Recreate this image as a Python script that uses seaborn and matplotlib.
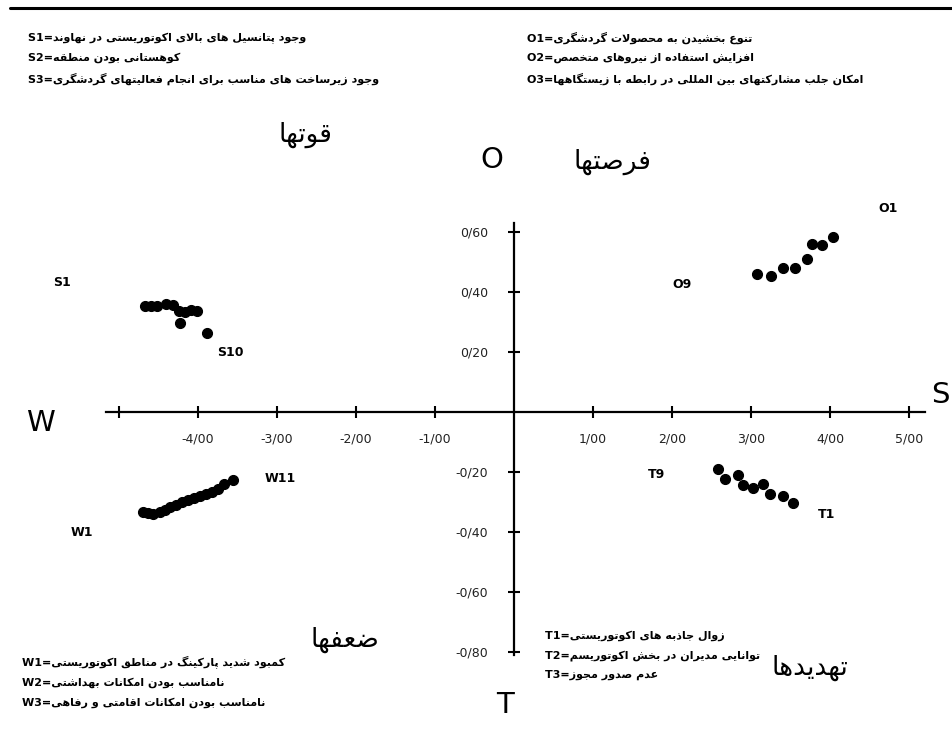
import pandas as pd
import matplotlib.pyplot as plt
import seaborn as sns

# --- point scores (x = internal S/W, y = external O/T) ---
s_x = [-4.67, -4.59, -4.52, -4.41, -4.32, -4.24, -4.16, -4.09, -4.01, -4.23, -3.89]
s_y = [0.353, 0.353, 0.353, 0.360, 0.357, 0.337, 0.333, 0.340, 0.337, 0.297, 0.263]

o_x = [3.08, 3.25, 3.41, 3.56, 3.71, 3.77, 3.90, 4.04]
o_y = [0.460, 0.453, 0.480, 0.480, 0.510, 0.560, 0.557, 0.583]

w_x = [-4.70, -4.63, -4.57, -4.48, -4.42, -4.35, -4.28, -4.20,
       -4.13, -4.05, -3.97, -3.90, -3.82, -3.75, -3.67, -3.56]
w_y = [-0.333, -0.337, -0.340, -0.333, -0.327, -0.317, -0.310, -0.300,
       -0.293, -0.287, -0.280, -0.273, -0.267, -0.257, -0.240, -0.227]

t_x = [2.58, 2.67, 2.84, 2.90, 3.03, 3.15, 3.24, 3.41, 3.53]
t_y = [-0.190, -0.223, -0.210, -0.243, -0.253, -0.240, -0.273, -0.280, -0.303]

x_ticks = [-5, -4, -3, -2, -1, 1, 2, 3, 4, 5]
x_tick_labels = ["", "-4/00", "-3/00", "-2/00", "-1/00", "1/00", "2/00", "3/00", "4/00", "5/00"]
y_ticks = [0.6, 0.4, 0.2, -0.2, -0.4, -0.6, -0.8]
y_tick_labels = ["0/60", "0/40", "0/20", "-0/20", "-0/40", "-0/60", "-0/80"]

s_lines = ["وجود پتانسیل های بالای اکوتوریستی در نهاوند",
           "کوهستانی بودن منطقه",
           "وجود زیرساخت های مناسب برای انجام فعالیتهای گردشگری"]
o_lines = ["تنوع بخشیدن به محصولات گردشگری",
           "افزایش استفاده از نیروهای متخصص",
           "امکان جلب مشارکتهای بین المللی در رابطه با زیستگاهها"]
w_lines = ["کمبود شدید پارکینگ در مناطق اکوتوریستی",
           "نامناسب بودن امکانات بهداشتی",
           "نامناسب بودن امکانات اقامتی و رفاهی"]
t_lines = ["زوال جاذبه های اکوتوریستی",
           "توانایی مدیران در بخش اکوتوریسم",
           "عدم صدور مجوز"]

quad_titles = {"S": "قوتها", "O": "فرصتها", "W": "ضعفها", "T": "تهدیدها"}

# --- tiny arabic/persian shaper (matplotlib has no shaping / bidi) ---
# isolated, final, initial, medial
FORMS = {
    "ا": ("\uFE8D", "\uFE8E", None, None), "آ": ("\uFE81", "\uFE82", None, None),
    "ب": ("\uFE8F", "\uFE90", "\uFE91", "\uFE92"), "پ": ("\uFB56", "\uFB57", "\uFB58", "\uFB59"),
    "ت": ("\uFE95", "\uFE96", "\uFE97", "\uFE98"), "ث": ("\uFE99", "\uFE9A", "\uFE9B", "\uFE9C"),
    "ج": ("\uFE9D", "\uFE9E", "\uFE9F", "\uFEA0"), "چ": ("\uFB7A", "\uFB7B", "\uFB7C", "\uFB7D"),
    "ح": ("\uFEA1", "\uFEA2", "\uFEA3", "\uFEA4"), "خ": ("\uFEA5", "\uFEA6", "\uFEA7", "\uFEA8"),
    "د": ("\uFEA9", "\uFEAA", None, None), "ذ": ("\uFEAB", "\uFEAC", None, None),
    "ر": ("\uFEAD", "\uFEAE", None, None), "ز": ("\uFEAF", "\uFEB0", None, None),
    "ژ": ("\uFB8A", "\uFB8B", None, None),
    "س": ("\uFEB1", "\uFEB2", "\uFEB3", "\uFEB4"), "ش": ("\uFEB5", "\uFEB6", "\uFEB7", "\uFEB8"),
    "ص": ("\uFEB9", "\uFEBA", "\uFEBB", "\uFEBC"), "ض": ("\uFEBD", "\uFEBE", "\uFEBF", "\uFEC0"),
    "ط": ("\uFEC1", "\uFEC2", "\uFEC3", "\uFEC4"), "ظ": ("\uFEC5", "\uFEC6", "\uFEC7", "\uFEC8"),
    "ع": ("\uFEC9", "\uFECA", "\uFECB", "\uFECC"), "غ": ("\uFECD", "\uFECE", "\uFECF", "\uFED0"),
    "ف": ("\uFED1", "\uFED2", "\uFED3", "\uFED4"), "ق": ("\uFED5", "\uFED6", "\uFED7", "\uFED8"),
    "ک": ("\uFB8E", "\uFB8F", "\uFB90", "\uFB91"), "گ": ("\uFB92", "\uFB93", "\uFB94", "\uFB95"),
    "ل": ("\uFEDD", "\uFEDE", "\uFEDF", "\uFEE0"), "م": ("\uFEE1", "\uFEE2", "\uFEE3", "\uFEE4"),
    "ن": ("\uFEE5", "\uFEE6", "\uFEE7", "\uFEE8"), "ه": ("\uFEE9", "\uFEEA", "\uFEEB", "\uFEEC"),
    "و": ("\uFEED", "\uFEEE", None, None),
    "ی": ("\uFBFC", "\uFBFD", "\uFBFE", "\uFBFF"),
}


def shape(text):
    out = []
    n = len(text)
    i = 0
    while i < n:
        c = text[i]
        if c not in FORMS:
            out.append(c)
            i += 1
            continue
        p = text[i - 1] if i > 0 else ""
        prev_j = p in FORMS and FORMS[p][2] is not None
        if c == "ل" and i + 1 < n and text[i + 1] == "ا":
            out.append("\uFEFC" if prev_j else "\uFEFB")
            i += 2
            continue
        nx = text[i + 1] if i + 1 < n else ""
        next_j = nx in FORMS and FORMS[c][2] is not None
        iso, fin, ini, med = FORMS[c]
        if prev_j and next_j:
            out.append(med)
        elif prev_j:
            out.append(fin)
        elif next_j:
            out.append(ini)
        else:
            out.append(iso)
        i += 1
    return "".join(reversed(out))


# --- data frame ---
rows = []
for grp, xs, ys in [("S", s_x, s_y), ("O", o_x, o_y), ("W", w_x, w_y), ("T", t_x, t_y)]:
    for x, y in zip(xs, ys):
        rows.append({"group": grp, "x": x, "y": y})
df = pd.DataFrame(rows)

sns.set_theme(style="white")
plt.rcParams["font.family"] = ["DejaVu Sans"]

W, H = 953, 753
fig = plt.figure(figsize=(W / 100, H / 100), dpi=100)
ax = fig.add_axes([0, 0, 1, 1])

sns.scatterplot(data=df, x="x", y="y", color="black", marker="o", s=52,
                edgecolor="black", linewidth=0.8, legend=False, ax=ax)

# pixel layout of the original: origin at (514, 412), 79 px per x unit, 300 px per y unit
ax.set_xlim(-514 / 79, (W - 514) / 79)
ax.set_ylim(-(H - 412) / 300, 412 / 300)


def at(px, py):
    return px / W, 1 - py / H


ax.spines["top"].set_visible(False)
ax.spines["right"].set_visible(False)
ax.spines["left"].set_position(("data", 0))
ax.spines["bottom"].set_position(("data", 0))
ax.spines["left"].set_bounds(-0.81, 0.63)
ax.spines["bottom"].set_bounds(-5.16, 5.2)
for sp in ["left", "bottom"]:
    ax.spines[sp].set_linewidth(1.6)
    ax.spines[sp].set_color("black")

ax.set_xticks(x_ticks)
ax.set_xticklabels(x_tick_labels)
ax.set_yticks(y_ticks)
ax.set_yticklabels(y_tick_labels)
ax.tick_params(axis="both", direction="inout", length=9, width=1.5, colors="black",
               labelsize=9, labelcolor="#222222", bottom=True, left=True)
ax.tick_params(axis="x", pad=10)
ax.tick_params(axis="y", pad=14)
ax.set_xlabel("")
ax.set_ylabel("")

# top rule
ax.plot([0.01, 1.0], [0.989, 0.989], transform=ax.transAxes, color="black", lw=2.2)

# axis end letters
big = dict(transform=ax.transAxes, fontsize=21, ha="center", va="center", color="black")
ax.text(*at(40, 423), "W", **big)
ax.text(*at(940, 395), "S", **big)
ax.text(*at(492, 160), "O", **big)
ax.text(*at(505, 705), "T", **big)

# quadrant titles
qt = dict(transform=ax.transAxes, fontsize=19, ha="center", va="center", color="black")
ax.text(*at(305, 135), shape(quad_titles["S"]), **qt)
ax.text(*at(612, 162), shape(quad_titles["O"]), **qt)
ax.text(*at(345, 640), shape(quad_titles["W"]), **qt)
ax.text(*at(810, 668), shape(quad_titles["T"]), **qt)

# point labels
pl = dict(transform=ax.transAxes, fontsize=9, fontweight="bold", ha="center", va="center",
          color="black")
for lab, px, py in [("S1", 62, 282), ("S10", 230, 352), ("O1", 888, 208), ("O9", 682, 284),
                    ("W1", 82, 533), ("W11", 280, 478), ("T9", 657, 475), ("T1", 827, 514)]:
    ax.text(*at(px, py), lab, **pl)

# factor key lists
kt = dict(transform=ax.transAxes, fontsize=8, fontweight="bold", ha="left", va="center",
          color="black")
for prefix, lines, px, ys in [("S", s_lines, 28, [38, 58, 79]),
                              ("O", o_lines, 527, [38, 58, 79]),
                              ("W", w_lines, 22, [662, 683, 703]),
                              ("T", t_lines, 545, [636, 656, 675])]:
    for k, (line, py) in enumerate(zip(lines, ys), start=1):
        ax.text(*at(px, py), f"{prefix}{k}=" + shape(line), **kt)

fig.savefig("out.png", dpi=100)
